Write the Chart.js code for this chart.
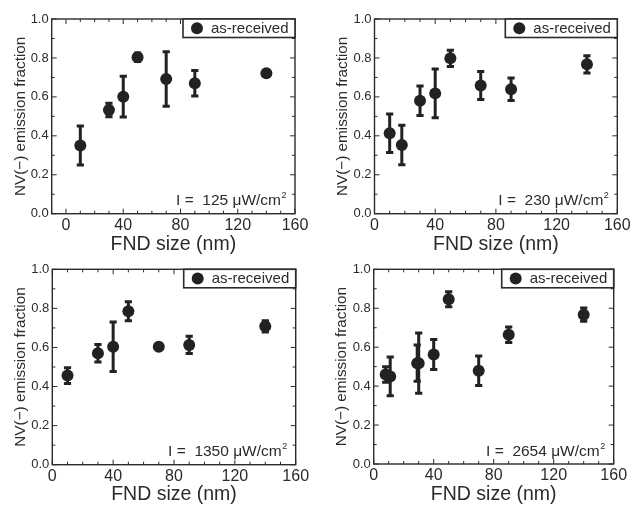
<!DOCTYPE html>
<html><head><meta charset="utf-8">
<script src="https://cdn.jsdelivr.net/npm/chart.js@4.4.1/dist/chart.umd.min.js"></script>
<style>
html,body{margin:0;padding:0;background:#fff;}
#wrap{position:relative;width:636px;height:508px;overflow:hidden;background:#fff;}
canvas{position:absolute;}
</style></head><body>
<div id="wrap">
<canvas id="c1" width="318" height="262" style="left:0px;top:0px"></canvas>
<canvas id="c2" width="318" height="262" style="left:318px;top:0px"></canvas>
<canvas id="c3" width="318" height="254" style="left:0px;top:254px"></canvas>
<canvas id="c4" width="318" height="254" style="left:318px;top:254px"></canvas>
</div>
<script>
// ---- data ----
const xTickLabels = [0, 40, 80, 120, 160];
const yTickLabels = [0.0, 0.2, 0.4, 0.6, 0.8, 1.0];
const xTitle = 'FND size (nm)';
const yTitle = 'NV(\u2212) emission fraction';
const seriesName = 'as-received';
const intensities = ['125', '230', '1350', '2654'];

const size125 = [10, 30, 40, 50, 70, 90, 140];
const frac125 = [0.35, 0.533, 0.601, 0.803, 0.692, 0.670, 0.721];
const err125  = [0.105, 0.04, 0.11, 0.027, 0.145, 0.07, 0];

const size230 = [10, 18, 30, 40, 50, 70, 90, 140];
const frac230 = [0.413, 0.353, 0.580, 0.618, 0.798, 0.658, 0.639, 0.767];
const err230  = [0.104, 0.107, 0.081, 0.13, 0.047, 0.077, 0.063, 0.049];

const size1350 = [10, 30, 40, 50, 70, 90, 140];
const frac1350 = [0.456, 0.570, 0.604, 0.785, 0.604, 0.613, 0.708];
const err1350  = [0.045, 0.05, 0.132, 0.054, 0, 0.049, 0.034];

const size2654 = [8, 11, 29, 30, 40, 50, 70, 90, 140];
const frac2654 = [0.46, 0.45, 0.518, 0.518, 0.562, 0.846, 0.479, 0.664, 0.767];
const err2654  = [0.045, 0.105, 0.098, 0.16, 0.082, 0.044, 0.081, 0.045, 0.039];

// ---- layout / style ----
const FONT = '"Liberation Sans", Arial, Helvetica, sans-serif';
const INK = '#2b2b2b';
const MARK = '#222222';

const panels = [
  {id:'c1', w:318, h:262, ca:{l:51.7, r:295, t:19, b:213.7}, xmin:-10, ytc:20.5, xtc:245, xs:size125, ys:frac125, es:err125, I:intensities[0]},
  {id:'c2', w:318, h:262, ca:{l:56.5, r:299.3, t:19, b:213.7}, xmin:0, ytc:25, xtc:245, xs:size230, ys:frac230, es:err230, I:intensities[1]},
  {id:'c3', w:318, h:254, ca:{l:52.3, r:295.7, t:15.3, b:210.7}, xmin:0, ytc:21, xtc:240.7, xs:size1350, ys:frac1350, es:err1350, I:intensities[2]},
  {id:'c4', w:318, h:254, ca:{l:55.7, r:295.7, t:15.3, b:210}, xmin:0, ytc:24, xtc:240.7, xs:size2654, ys:frac2654, es:err2654, I:intensities[3]}
];

const decor = {
  id: 'decor',
  beforeDatasetsDraw(chart, args, opts) {
    const ctx = chart.ctx, xs = chart.scales.x, ys = chart.scales.y;
    const ds = chart.data.datasets[0].data;
    ctx.save();
    ctx.strokeStyle = MARK;
    ctx.lineWidth = 3;
    ctx.lineCap = 'butt';
    ds.forEach((p, i) => {
      const e = opts.err[i];
      if (!e) return;
      const px = xs.getPixelForValue(p.x);
      const y1 = ys.getPixelForValue(p.y + e);
      const y2 = ys.getPixelForValue(p.y - e);
      ctx.beginPath();
      ctx.moveTo(px, y1); ctx.lineTo(px, y2);
      ctx.moveTo(px - 3.6, y1 + 1); ctx.lineTo(px + 3.6, y1 + 1);
      ctx.moveTo(px - 3.6, y2 - 1); ctx.lineTo(px + 3.6, y2 - 1);
      ctx.stroke();
    });
    ctx.restore();
  },
  afterDraw(chart, args, opts) {
    const ctx = chart.ctx, xs = chart.scales.x, ys = chart.scales.y;
    const a = chart.chartArea;
    ctx.save();
    ctx.strokeStyle = INK;
    ctx.lineWidth = 1.4;
    ctx.strokeRect(a.left, a.top, a.right - a.left, a.bottom - a.top);
    ctx.lineWidth = 1;
    ctx.beginPath();
    for (let v = Math.ceil(xs.min / 10) * 10; v <= xs.max; v += 10) {
      const px = xs.getPixelForValue(v);
      const len = (v % 40 === 0) ? 5 : 3;
      ctx.moveTo(px, a.bottom); ctx.lineTo(px, a.bottom - len);
      ctx.moveTo(px, a.top); ctx.lineTo(px, a.top + len);
    }
    for (let k = 0; k <= 10; k++) {
      const py = ys.getPixelForValue(k / 10);
      const len = (k % 2 === 0) ? 5 : 3;
      ctx.moveTo(a.left, py); ctx.lineTo(a.left + len, py);
      ctx.moveTo(a.right, py); ctx.lineTo(a.right - len, py);
    }
    ctx.stroke();

    // legend box
    const bw = 112, bh = 18.5;
    ctx.fillStyle = '#fff';
    ctx.fillRect(a.right - bw, a.top, bw, bh);
    ctx.lineWidth = 1.6;
    ctx.strokeRect(a.right - bw, a.top, bw, bh);
    ctx.fillStyle = MARK;
    ctx.beginPath();
    ctx.arc(a.right - 98, a.top + bh / 2, 6, 0, Math.PI * 2);
    ctx.fill();
    ctx.fillStyle = INK;
    ctx.font = '15px ' + FONT;
    ctx.textBaseline = 'middle';
    ctx.textAlign = 'left';
    ctx.fillText(seriesName, a.right - 84, a.top + bh / 2 + 0.5);

    // intensity annotation
    const main = 'I =  ' + opts.I + ' \u03BCW/cm';
    const bx = a.right - 8.5, by = a.bottom - 8.5;
    ctx.textBaseline = 'alphabetic';
    ctx.textAlign = 'right';
    ctx.font = '9px ' + FONT;
    const sw = ctx.measureText('2').width;
    ctx.fillText('2', bx, by - 7);
    ctx.font = '15.5px ' + FONT;
    ctx.fillText(main, bx - sw - 0.5, by);
    ctx.restore();
  }
};

panels.forEach(P => {
  const ctx = document.getElementById(P.id).getContext('2d');
  new Chart(ctx, {
    type: 'scatter',
    data: {
      datasets: [{
        label: seriesName,
        data: P.xs.map((x, i) => ({x: x, y: P.ys[i]})),
        pointRadius: 6, pointHoverRadius: 6, borderWidth: 0,
        backgroundColor: MARK, borderColor: MARK
      }]
    },
    options: {
      responsive: false, animation: false, devicePixelRatio: 1,
      events: [],
      layout: {padding: {left: 0, top: P.ca.t, right: P.w - P.ca.r, bottom: 0}},
      plugins: {
        legend: {display: false}, tooltip: {enabled: false},
        decor: {err: P.es, I: P.I}
      },
      scales: {
        x: {
          type: 'linear', min: P.xmin, max: 160,
          afterBuildTicks(s) { s.ticks = xTickLabels.map(v => ({value: v})); },
          afterFit(s) { s.height = P.h - P.ca.b; },
          grid: {display: false, drawTicks: false},
          border: {display: false},
          ticks: {font: {size: 16, family: FONT}, color: INK, padding: 2, maxRotation: 0, autoSkip: false},
          title: {display: true, text: xTitle, color: INK, font: {size: 19.5, family: FONT},
                  padding: {top: 0, bottom: (P.h - P.xtc) - 11.7}}
        },
        y: {
          type: 'linear', min: 0, max: 1,
          afterBuildTicks(s) { s.ticks = yTickLabels.map(v => ({value: v})); },
          afterFit(s) { s.width = P.ca.l; },
          grid: {display: false, drawTicks: false},
          border: {display: false},
          ticks: {font: {size: 13, family: FONT}, color: INK, padding: 3, callback: v => Number(v).toFixed(1)},
          title: {display: true, text: yTitle, color: INK, font: {size: 15.3, family: FONT},
                  padding: {top: P.ytc - 9.18, bottom: 0}}
        }
      }
    },
    plugins: [decor]
  });
});
</script>
</body></html>
